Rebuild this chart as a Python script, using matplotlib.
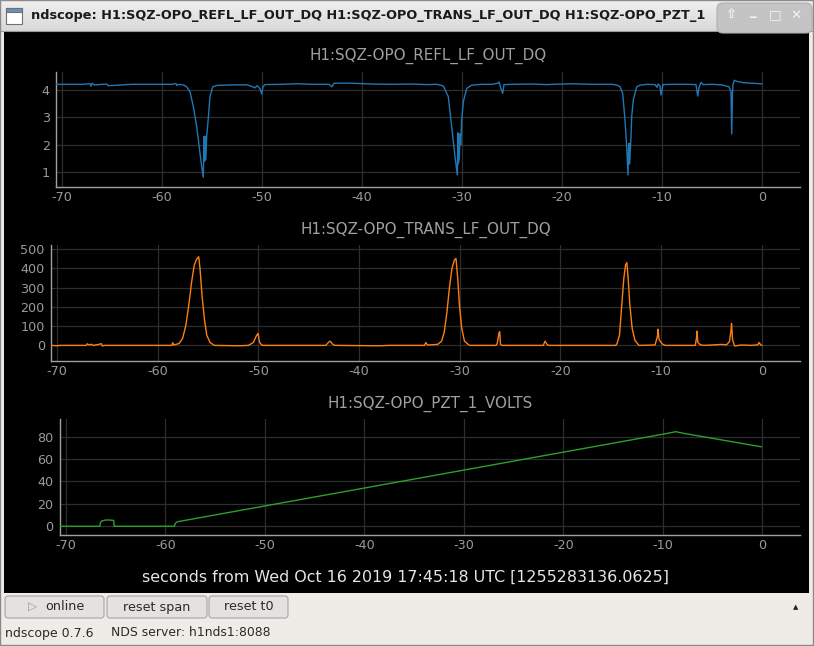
import numpy as np
import matplotlib
matplotlib.use("Agg")
import matplotlib.pyplot as plt
from matplotlib.patches import Rectangle, FancyBboxPatch

plt.rcParams["axes.unicode_minus"] = False

W, H = 814, 646

# traces as (seconds, value)
refl_pts = [
    (-70.6, 4.21), (-68.0, 4.21), (-67.2, 4.23), (-67.1, 4.14), (-67.0, 4.25), (-66.8, 4.19),
    (-65.5, 4.22), (-65.4, 4.16), (-63.0, 4.21), (-59.0, 4.21), (-58.6, 4.24), (-58.5, 4.17),
    (-58.3, 4.21), (-57.8, 4.18), (-57.53, 4.12), (-57.2, 3.94), (-56.87, 3.40), (-56.53, 2.66),
    (-56.2, 1.69), (-56.03, 1.20), (-55.87, 0.82), (-55.8, 2.30), (-55.75, 1.40), (-55.7, 2.32),
    (-55.62, 1.45), (-55.53, 2.30), (-55.37, 2.97), (-55.2, 3.76), (-54.93, 4.12), (-54.5, 4.17),
    (-53.0, 4.19), (-51.5, 4.19), (-51.0, 4.13), (-50.7, 4.08), (-50.5, 4.16), (-50.2, 4.05),
    (-50.03, 3.86), (-49.9, 4.12), (-49.7, 4.20), (-48.0, 4.21), (-46.5, 4.23), (-45.0, 4.21),
    (-43.3, 4.21), (-43.0, 4.12), (-42.8, 4.25), (-41.0, 4.25), (-39.0, 4.22), (-37.0, 4.21),
    (-35.0, 4.22), (-33.5, 4.20), (-32.5, 4.21), (-31.87, 4.15), (-31.37, 3.76), (-31.03, 2.66),
    (-30.7, 1.57), (-30.47, 0.90), (-30.4, 2.44), (-30.37, 1.30), (-30.27, 1.50), (-30.2, 2.40),
    (-30.13, 2.00), (-30.03, 2.90), (-29.87, 3.57), (-29.53, 4.06), (-29.03, 4.18), (-28.0, 4.21),
    (-27.0, 4.21), (-26.4, 4.25), (-26.3, 4.30), (-26.1, 4.05), (-25.93, 3.88), (-25.8, 4.20),
    (-25.0, 4.21), (-23.0, 4.22), (-21.5, 4.20), (-21.0, 4.21), (-19.0, 4.23), (-17.0, 4.21),
    (-15.0, 4.21), (-14.6, 4.19), (-14.2, 4.13), (-13.93, 3.88), (-13.7, 2.90), (-13.53, 1.94),
    (-13.4, 0.90), (-13.35, 1.80), (-13.3, 2.06), (-13.25, 1.30), (-13.2, 1.57), (-13.1, 2.30),
    (-13.03, 3.03), (-12.87, 3.64), (-12.53, 4.12), (-12.2, 4.18), (-11.5, 4.21), (-10.7, 4.20),
    (-10.5, 4.10), (-10.4, 4.22), (-10.2, 4.15), (-10.1, 3.82), (-9.9, 4.20), (-9.0, 4.21),
    (-7.5, 4.21), (-6.6, 4.20), (-6.43, 3.78), (-6.3, 4.10), (-6.1, 4.28), (-5.9, 4.20),
    (-5.0, 4.21), (-4.0, 4.19), (-3.3, 4.12), (-3.1, 3.94), (-3.03, 2.40), (-2.95, 3.90),
    (-2.9, 4.20), (-2.77, 4.36), (-2.53, 4.32), (-1.87, 4.27), (-1.0, 4.25), (-0.03, 4.23),
]

trans_pts = [
    (-70.6, 0), (-69.9, -2), (-69.8, 0), (-67.1, 0), (-67.0, 8), (-66.8, 2), (-66.6, 6),
    (-66.4, 0), (-65.8, 6), (-65.6, 9), (-65.5, -3), (-65.3, 0), (-58.6, 0), (-58.5, 14),
    (-58.4, 2), (-57.87, 10), (-57.53, 36), (-57.2, 105), (-56.87, 226), (-56.63, 330),
    (-56.37, 417), (-56.13, 448), (-55.93, 460), (-55.8, 400), (-55.6, 261), (-55.37, 140),
    (-55.13, 53), (-54.8, 15), (-54.37, 0), (-52.0, -2), (-51.0, 0), (-50.5, 15), (-50.2, 50),
    (-50.03, 62), (-49.9, 20), (-49.8, 10), (-49.6, 0), (-43.3, 0), (-43.0, 18), (-42.87, 22),
    (-42.6, 5), (-42.4, 0), (-38.0, -2), (-37.0, 0), (-33.5, 0), (-33.37, 15), (-33.2, 2),
    (-32.2, 5), (-31.8, 22), (-31.53, 71), (-31.27, 174), (-31.03, 296), (-30.77, 400),
    (-30.53, 443), (-30.37, 451), (-30.2, 348), (-30.03, 209), (-29.8, 88), (-29.53, 22),
    (-29.03, 0), (-26.4, 0), (-26.27, 10), (-26.1, 65), (-26.03, 71), (-25.95, 5), (-25.8, 0),
    (-21.7, 0), (-21.53, 22), (-21.3, 3), (-21.1, 0), (-14.5, 0), (-14.37, 10), (-14.13, 53),
    (-13.93, 192), (-13.7, 348), (-13.53, 417), (-13.4, 430), (-13.27, 348), (-13.1, 209),
    (-12.87, 88), (-12.6, 27), (-12.2, 0), (-10.6, 2), (-10.35, 50), (-10.3, 84), (-10.2, 30),
    (-9.9, 8), (-9.6, 0), (-6.6, 0), (-6.48, 40), (-6.43, 74), (-6.35, 15), (-6.1, 3),
    (-5.7, 0), (-4.0, 5), (-3.5, 3), (-3.2, 20), (-3.05, 80), (-3.0, 114), (-2.9, 30),
    (-2.7, -3), (-2.0, 2), (-1.0, 0), (-0.4, 3), (-0.27, 15), (-0.1, 3), (0.0, 0),
]

pzt_pts = [
    (-70.6, 0), (-66.6, 0), (-66.55, 3), (-66.4, 4.7), (-66.0, 5.6), (-65.6, 5.6),
    (-65.2, 5.2), (-65.15, 0), (-59.1, 0), (-59.0, 2.7), (-58.8, 4.0), (-58.7, 4.2),
    (-9.5, 83.0), (-8.7, 84.5), (-7.9, 83.0), (-0.1, 71.0),
]

channels = ["H1:SQZ-OPO_REFL_LF_OUT_DQ", "H1:SQZ-OPO_TRANS_LF_OUT_DQ", "H1:SQZ-OPO_PZT_1_VOLTS"]
colors = ["#1f77b4", "#ff7f0e", "#2ca02c"]
x_ticks = [-70, -60, -50, -40, -30, -20, -10, 0]
y_ticks = [[1, 2, 3, 4], [0, 100, 200, 300, 400, 500], [0, 20, 40, 60, 80]]
y_limits = [(0.46, 4.66), (-81, 521), (-7.8, 95.8)]
x_limits = (-70.6, 3.8)

# the title bar only shows this much before the window buttons
window_title = "ndscope: H1:SQZ-OPO_REFL_LF_OUT_DQ H1:SQZ-OPO_TRANS_LF_OUT_DQ H1:SQZ-OPO_PZT_1"
time_label = "seconds from Wed Oct 16 2019 17:45:18 UTC [1255283136.0625]"
button_labels = ["online", "reset span", "reset t0"]
version_text = "ndscope 0.7.6"
server_text = "NDS server: h1nds1:8088"

# pixel boxes (left, top, right, bottom)
plot_boxes = [(56, 72, 800, 187), (51, 245, 800, 361), (60, 419, 800, 535)]
title_y = [56, 230, 404]
button_boxes = [(5, 596, 104, 618), (107, 596, 207, 618), (209, 596, 288, 618)]


def fig_rect(l, t, r, b):
    return [l / W, 1 - b / H, (r - l) / W, (b - t) / H]


fig = plt.figure(figsize=(W / 100, H / 100), dpi=100)
fig.patch.set_facecolor("#efebe7")

# window chrome drawn in pixel coordinates
bg = fig.add_axes([0, 0, 1, 1], zorder=0)
bg.set_xlim(0, W)
bg.set_ylim(H, 0)
bg.axis("off")

grad = np.linspace(0.94, 0.85, 31)
bg.imshow(np.dstack([grad, grad, grad]).reshape(31, 1, 3),
          extent=(0, W, 31, 0), aspect="auto", zorder=1)
bg.add_patch(Rectangle((0, 0), W - 1, H - 1, fill=False, ec="#8a8a8a", lw=1, zorder=10))
bg.plot([0, W], [31, 31], color="#9a9a9a", lw=0.8, zorder=2)

# window icon
bg.add_patch(Rectangle((6, 8), 16, 16, fc="white", ec="#707070", lw=0.8, zorder=3))
bg.add_patch(Rectangle((6, 8), 16, 4, fc="#6e8fb8", ec="#707070", lw=0.8, zorder=3))

t = bg.text(31, 16, window_title, fontsize=9.3, fontweight="bold", color="#1a1a1a",
            va="center", ha="left", zorder=3)
t.set_clip_path(Rectangle((0, 0), 715, 31, transform=bg.transData))

bg.add_patch(FancyBboxPatch((717, 3), 95, 30, boxstyle="round,pad=0,rounding_size=6",
                            fc="#c4c4c4", ec="#b0b0b0", lw=0.8, zorder=4))
for x, s in zip([731, 753, 775, 796], ["⇧", "_", "□", "✕"]):
    bg.text(x, 15 if s != "_" else 12, s, fontsize=9.5, color="#f4f4f4", ha="center",
            va="center", zorder=5, fontweight="bold")

# black scope area
bg.add_patch(Rectangle((4, 32), 805, 561, fc="black", ec="none", zorder=1))

# buttons and status line
for (l, tp, r, b), lab in zip(button_boxes, button_labels):
    bg.add_patch(FancyBboxPatch((l, tp), r - l, b - tp, boxstyle="round,pad=0,rounding_size=3",
                                fc="#e4e2df", ec="#a6a6a6", lw=0.8, zorder=3))
    cx = 65 if lab == "online" else (l + r) / 2
    bg.text(cx, (tp + b) / 2, lab, fontsize=9.2, color="#2a2a2a", ha="center", va="center", zorder=4)
bg.text(33, 607, "▷", fontsize=8.5, color="#9a9a9a", ha="center", va="center", zorder=4)
bg.text(796, 607, "▲", fontsize=5, color="#222222", ha="center", va="center", zorder=4)
bg.text(5, 633, version_text, fontsize=9.0, color="#2a2a2a", ha="left", va="center", zorder=4)
bg.text(111, 633, server_text, fontsize=8.9, color="#2a2a2a", ha="left", va="center", zorder=4)

bg.text(406, 577, time_label, fontsize=11.4, color="#e6e6e6", ha="center", va="center", zorder=4)

# the three scope plots
series = [refl_pts, trans_pts, pzt_pts]
for i, pts in enumerate(series):
    ax = fig.add_axes(fig_rect(*plot_boxes[i]), zorder=2)
    ax.set_facecolor("none")
    tt = [p[0] for p in pts]
    vv = [p[1] for p in pts]
    ax.plot(tt, vv, color=colors[i], lw=1.0, zorder=3)
    ax.set_xlim(*x_limits)
    ax.set_ylim(*y_limits[i])
    ax.set_xticks(x_ticks)
    ax.set_yticks(y_ticks[i])
    ax.grid(True, color="#2e2e2e", lw=0.9)
    ax.set_axisbelow(True)
    for side in ["top", "right"]:
        ax.spines[side].set_visible(False)
    for side in ["left", "bottom"]:
        ax.spines[side].set_color("#a0a0a0")
        ax.spines[side].set_linewidth(1.0)
    ax.tick_params(axis="both", length=0, labelsize=9.2, labelcolor="#9a9a9a")
    ax.tick_params(axis="x", pad=3)
    ax.tick_params(axis="y", pad=4.5)
    l, tp, r, b = plot_boxes[i]
    bg.text((l + r) / 2, title_y[i], channels[i], fontsize=10.9, color="#a0a0a0",
            ha="center", va="center", zorder=4)

fig.savefig("out.png", dpi=100, facecolor=fig.get_facecolor())
